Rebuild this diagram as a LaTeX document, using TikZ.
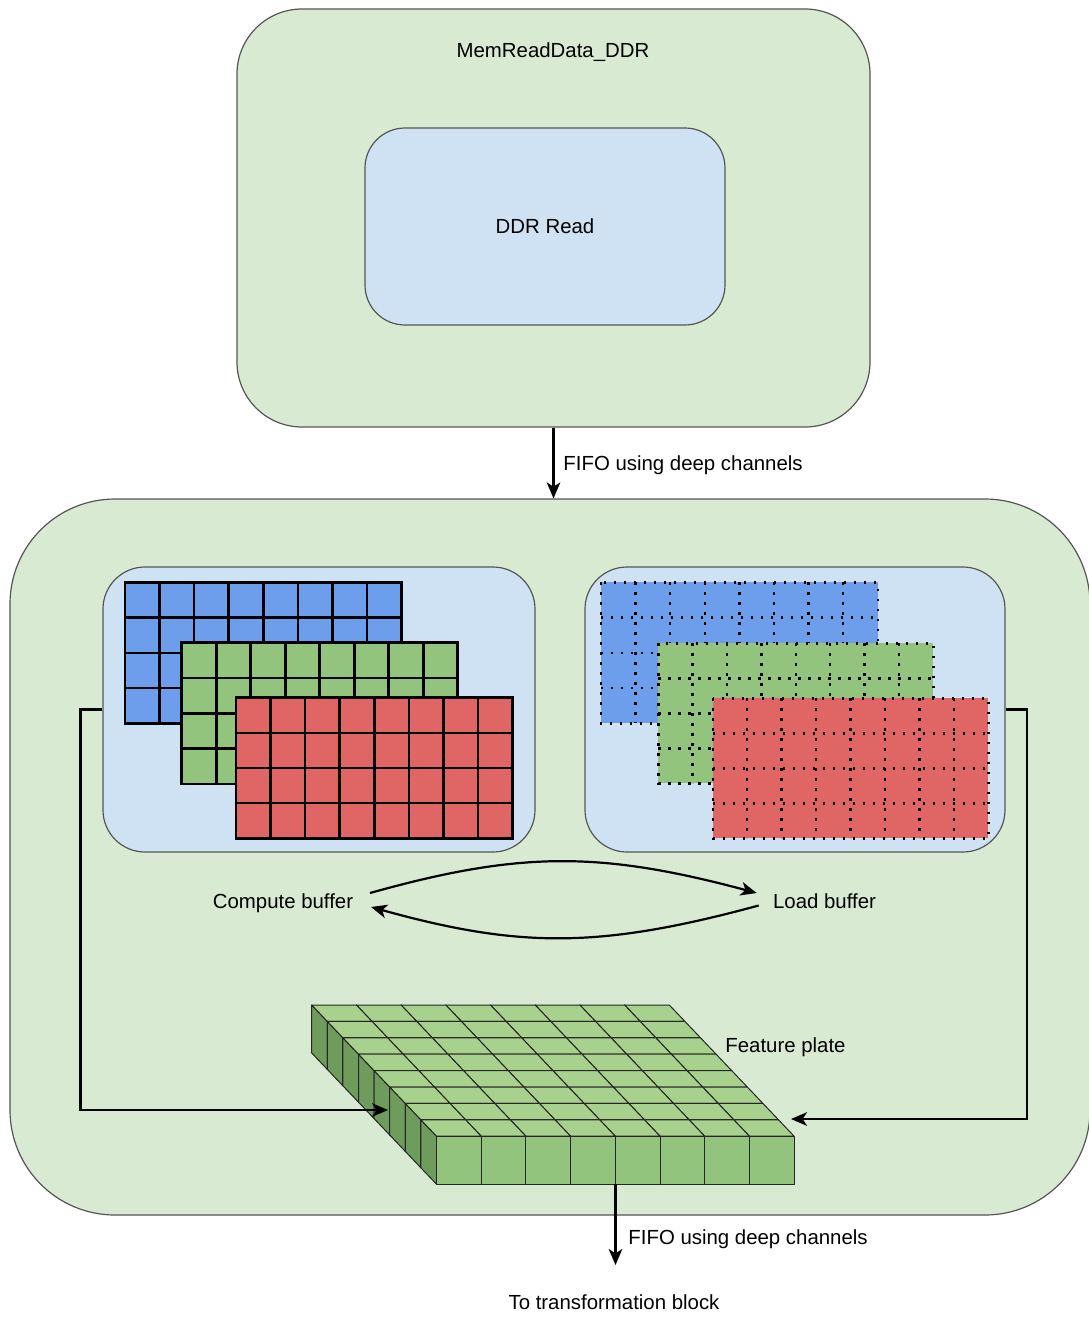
\documentclass[tikz,border=0pt]{standalone}
\usepackage{fontspec}
\setmainfont{Liberation Sans}
\usetikzlibrary{arrows.meta,calc}

\definecolor{outergreen}{HTML}{D9EAD3}
\definecolor{panelblue}{HTML}{CFE2F3}
\definecolor{edgegray}{HTML}{555555}
\definecolor{gblue}{HTML}{6D9EEB}
\definecolor{ggreen}{HTML}{93C47D}
\definecolor{gred}{HTML}{E06666}
\definecolor{cubetop}{HTML}{A9D18E}
\definecolor{cubefront}{HTML}{93C47D}
\definecolor{cubeside}{HTML}{6F9B5C}

% filled 8x4 cell grid: x0, y0, x1, y1, fill colour, line style
\newcommand\cellgrid[6]{%
  \fill[#5] (#1,#2) rectangle (#3,#4);
  \foreach \i in {1,...,7} {\draw[#6] ({#1+(#3-#1)*\i/8},#2) -- ({#1+(#3-#1)*\i/8},#4);}
  \foreach \j in {1,2,3} {\draw[#6] (#1,{#2+(#4-#2)*\j/4}) -- (#3,{#2+(#4-#2)*\j/4});}
  \draw[#6] (#1,#2) rectangle (#3,#4);
}

\begin{document}
\begin{tikzpicture}[x=0.5pt,y=-0.5pt,
  font=\fontsize{10.2pt}{12pt}\selectfont,
  container/.style={draw=edgegray, line width=0.6pt, fill=outergreen},
  panel/.style={draw=edgegray, line width=0.6pt, fill=panelblue},
  lbl/.style={inner sep=0pt, text=black, text height=1.6ex, text depth=0.3ex},
  flow/.style={line width=1.1pt, -{Stealth[length=8pt,width=6.8pt,inset=2.2pt]}},
  gridsolid/.style={line width=1.3pt, black},
  griddot/.style={line width=1.2pt, black, dash pattern=on 1.2pt off 3.8pt},
  cubeedge/.style={draw=black!85, line width=0.5pt, line join=round}]

\useasboundingbox (0,0) rectangle (1088,1317);

% --- memory read kernel ---
\node[container, rounded corners=32.5pt, minimum width=316.5pt, minimum height=209pt] (memread) at (553.5,218) {};
\node[lbl] (memtitle) at (553,51) {MemReadData\_DDR};
\node[panel, rounded corners=20pt, minimum width=180pt, minimum height=98.5pt] (ddr) at (545,226.5) {DDR Read};

% --- buffering kernel ---
\node[container, rounded corners=52.5pt, minimum width=540pt, minimum height=358pt] (engine) at (550,857) {};
\draw[flow] (memread.south) -- (memread.south |- engine.north);
\node[lbl, anchor=west] (fifoin) at (563,464) {FIFO using deep channels};

\node[panel, rounded corners=21pt, minimum width=216pt, minimum height=142.5pt] (cbuf) at (319,709.5) {};
\node[panel, rounded corners=21pt, minimum width=210pt, minimum height=142.5pt] (lbuf) at (795,709.5) {};

% compute buffer: solid cell grids
\cellgrid{125}{582.3}{401.7}{723.3}{gblue}{gridsolid}
\cellgrid{181.7}{642.7}{457.7}{784}{ggreen}{gridsolid}
\cellgrid{236}{697.7}{512.7}{838.3}{gred}{gridsolid}

% load buffer: dotted cell grids
\cellgrid{601}{582.3}{877.7}{723.3}{gblue}{griddot}
\cellgrid{658.3}{643.3}{933.3}{783.3}{ggreen}{griddot}
\cellgrid{712.7}{698.3}{988.3}{838.3}{gred}{griddot}

% --- feature plate: 8 x 8 cubes, back row first, right to left ---
\foreach \r in {0,...,7} {
  \foreach \c in {7,6,...,0} {
    \pgfmathsetmacro\fx{327.3+15.6*\r+44.7*\c}
    \pgfmathsetmacro\fy{1021.4+16.4*\r}
    \filldraw[cubeedge, fill=cubeside] (\fx,\fy) -- (\fx,\fy+48) -- (\fx-15.6,\fy+48-16.4) -- (\fx-15.6,\fy-16.4) -- cycle;
    \filldraw[cubeedge, fill=cubetop] (\fx,\fy) -- (\fx+44.7,\fy) -- (\fx+44.7-15.6,\fy-16.4) -- (\fx-15.6,\fy-16.4) -- cycle;
    \filldraw[cubeedge, fill=cubefront] (\fx,\fy) rectangle (\fx+44.7,\fy+48);
  }
}
\coordinate (plateW) at (388,1110);
\coordinate (plateE) at (791,1119);
\coordinate (plateS) at (615.5,1184.2);
\coordinate (outlet) at (615.5,1265);

\node[lbl, anchor=west] (plate) at (725,1046) {Feature plate};

% --- buffer swap and plate feeds ---
\node[lbl] (cblabel) at (283,902) {Compute buffer};
\node[lbl] (lblabel) at (824.5,902) {Load buffer};
\draw[flow] ($(cblabel.east)+(16.5,-9)$) .. controls (520,851) and (600,851) .. ($(lblabel.west)+(-16,-9)$);
\draw[flow] ($(lblabel.west)+(-14,3.5)$) .. controls (600,948.5) and (520,948.5) .. ($(cblabel.east)+(17.5,5)$);

\draw[flow] (cbuf.west) -- ++(-22,0) |- (plateW);
\draw[flow] (lbuf.east) -- ++(21,0) |- (plateE);

% --- output ---
\draw[flow] (plateS) -- (outlet);
\node[lbl, anchor=west] (fifoout) at (628,1238) {FIFO using deep channels};
\node[lbl] (dest) at (614,1303) {To transformation block};

\end{tikzpicture}
\end{document}
